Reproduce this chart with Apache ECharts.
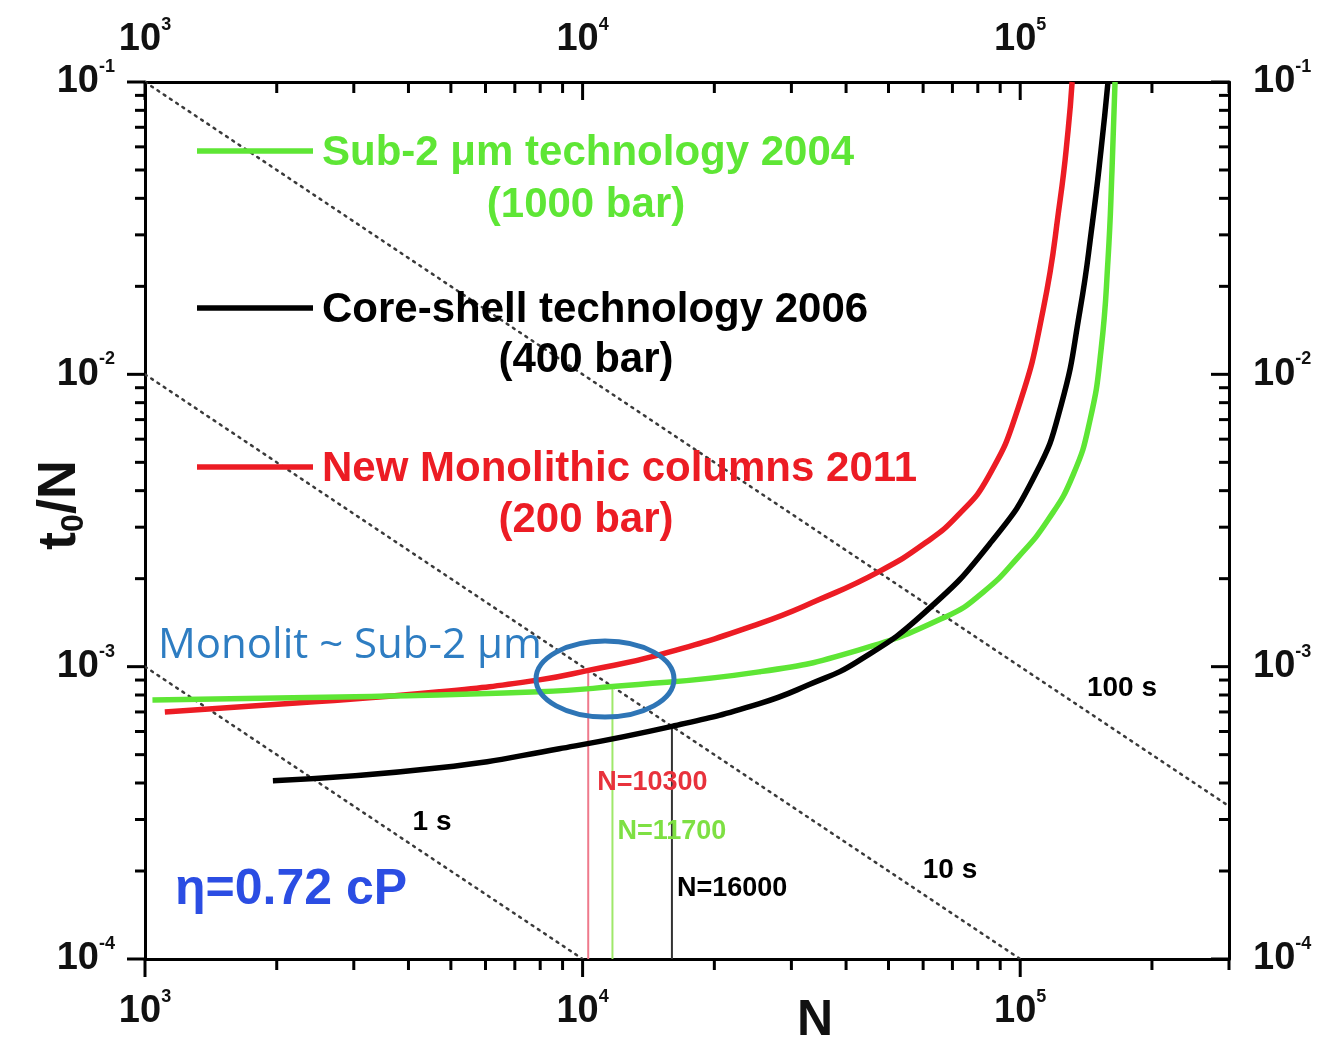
<!DOCTYPE html>
<html>
<head>
<meta charset="utf-8">
<script src="https://cdn.jsdelivr.net/npm/echarts@6/dist/echarts.min.js"></script>
<style>
  html, body { margin: 0; padding: 0; background: #ffffff; }
  #chart { width: 1325px; height: 1043px; }
</style>
</head>
<body>
<div id="chart"></div>
<script>
// Kinetic plot: t0/N against plate number N for three column technologies

// Sub-2 µm particles, 2004 (1000 bar)
const sub2N = [1040, 2790, 7960, 11700, 25300, 42700, 67500, 82350, 98950, 115800, 132100, 144400, 153000, 158700, 162100, 164700];
const sub2T = [7.69e-4, 7.88e-4, 8.2e-4, 8.55e-4, 9.6e-4, 1.14e-3, 1.48e-3, 1.80e-3, 2.37e-3, 3.18e-3, 4.53e-3, 6.98e-3, 1.21e-2, 2.46e-2, 5.0e-2, 1.0e-1];

// Core-shell particles, 2006 (400 bar)
const coreShellN = [1960, 4706, 8842, 16000, 25260, 32850, 42720, 60720, 85870, 108200, 124050, 137000, 146000, 153000, 158700];
const coreShellT = [4.07e-4, 4.51e-4, 5.24e-4, 6.25e-4, 7.46e-4, 8.67e-4, 1.047e-3, 1.54e-3, 2.672e-3, 4.53e-3, 7.86e-3, 1.66e-2, 3.24e-2, 5.85e-2, 1.0e-1];

// New monolithic columns, 2011 (200 bar)
const monolithN = [1110, 2257, 4706, 7959, 10300, 14943, 25262, 34621, 47446, 60725, 72210, 84530, 98955, 112800, 123380, 128680, 131400];
const monolithT = [7.0e-4, 7.52e-4, 8.2e-4, 9.01e-4, 9.71e-4, 1.098e-3, 1.401e-3, 1.693e-3, 2.11e-3, 2.652e-3, 3.305e-3, 4.457e-3, 7.68e-3, 1.66e-2, 3.95e-2, 6.85e-2, 1.0e-1];

// Constant analysis-time lines (end points)
const iso1sN = [1000, 10000];
const iso1sT = [1e-3, 1e-4];
const iso10sN = [1000, 100000];
const iso10sT = [1e-2, 1e-4];
const iso100sN = [1000, 300000];
const iso100sT = [1e-1, 3.333e-4];
const isoNames = ['1 s', '10 s', '100 s'];

// Plate numbers reached within 10 s
const markN = [10300, 11700, 16000];
const markT = [9.71e-4, 8.55e-4, 6.25e-4];

// Axis ticks
const xMajorTicks = [1e3, 1e4, 1e5];
const xMinorTicks = [2e3, 3e3, 4e3, 5e3, 6e3, 7e3, 8e3, 9e3, 2e4, 3e4, 4e4, 5e4, 6e4, 7e4, 8e4, 9e4, 2e5, 3e5];
const yMajorTicks = [1e-4, 1e-3, 1e-2, 1e-1];
const yMinorTicks = [2e-4, 3e-4, 4e-4, 5e-4, 6e-4, 7e-4, 8e-4, 9e-4,
                     2e-3, 3e-3, 4e-3, 5e-3, 6e-3, 7e-3, 8e-3, 9e-3,
                     2e-2, 3e-2, 4e-2, 5e-2, 6e-2, 7e-2, 8e-2, 9e-2];

const legendLines = ['Sub-2 \u03bcm technology 2004', 'Core-shell technology 2006', 'New Monolithic columns 2011'];
const legendPressures = ['(1000 bar)', '(400 bar)', '(200 bar)'];

const FONT = "'Liberation Sans', Arial, Helvetica, sans-serif";
const GREEN = '#5ee635';
const RED = '#ec1c24';
const BLACK = '#000000';

function zip(a, b) { return a.map((v, i) => [v, b[i]]); }

function powLabel(v) {
  const l = Math.log10(v);
  const e = Math.round(l);
  if (Math.abs(l - e) > 1e-6) return '';
  return '{b|10}{s|' + (e < 0 ? '-' + (-e) : e) + '}';
}

const labelRich = {
  b: { fontFamily: FONT, fontSize: 38, fontWeight: 'bold', color: '#111', lineHeight: 48 },
  s: { fontFamily: FONT, fontSize: 18, fontWeight: 'bold', color: '#111', lineHeight: 16, verticalAlign: 'top' }
};

function xAxisCfg(pos, margin) {
  return {
    type: 'log', logBase: 10, min: 1000, max: 300000, position: pos,
    axisLine: { show: true, onZero: false, lineStyle: { color: '#000', width: 3 } },
    axisTick: { show: false }, minorTick: { show: false },
    splitLine: { show: false },
    axisLabel: { margin: margin, formatter: powLabel, rich: labelRich, showMaxLabel: false }
  };
}
function yAxisCfg(pos, margin) {
  return {
    type: 'log', logBase: 10, min: 1e-4, max: 1e-1, position: pos,
    axisLine: { show: true, onZero: false, lineStyle: { color: '#000', width: 3 } },
    axisTick: { show: false }, minorTick: { show: false },
    splitLine: { show: false },
    axisLabel: { margin: margin, formatter: powLabel, rich: labelRich }
  };
}

// ticks: outward on bottom/left, inward on top/right
function xTickItem(params, api) {
  const v = api.value(0);
  const major = api.value(2) === 1;
  const cs = params.coordSys;
  const x = api.coord([v, 1e-3])[0];
  const bottom = cs.y + cs.height, top = cs.y;
  const len = major ? 18 : 11;
  const st = { stroke: '#000', lineWidth: 3 };
  return { type: 'group', children: [
    { type: 'line', shape: { x1: x, y1: bottom, x2: x, y2: bottom + len }, style: st },
    { type: 'line', shape: { x1: x, y1: top, x2: x, y2: top + len }, style: st }
  ] };
}
function yTickItem(params, api) {
  const v = api.value(1);
  const major = api.value(2) === 1;
  const cs = params.coordSys;
  const y = api.coord([1e4, v])[1];
  const left = cs.x, right = cs.x + cs.width;
  const len = major ? 18 : 10;
  const st = { stroke: '#000', lineWidth: 3 };
  return { type: 'group', children: [
    { type: 'line', shape: { x1: left - len, y1: y, x2: left, y2: y }, style: st },
    { type: 'line', shape: { x1: right - len, y1: y, x2: right, y2: y }, style: st }
  ] };
}

const xTickData = xMajorTicks.map(v => [v, 1e-3, 1]).concat(xMinorTicks.map(v => [v, 1e-3, 0]));
const yTickData = yMajorTicks.map(v => [1e4, v, 1]).concat(yMinorTicks.map(v => [1e4, v, 0]));

const isoStyle = { color: '#3a3a3a', width: 2.5, type: [2, 5.5], cap: 'round' };

function lineSeries(name, data, style, z) {
  return {
    name: name, type: 'line', data: data, xAxisIndex: 0, yAxisIndex: 0,
    symbol: 'none', showSymbol: false, smooth: false, lineStyle: style, z: z,
    silent: true, animation: false
  };
}

const markColors = ['#ef7a8c', '#9fe86a', '#333333'];

const series = [
  lineSeries(isoNames[0], zip(iso1sN, iso1sT), isoStyle, 1),
  lineSeries(isoNames[1], zip(iso10sN, iso10sT), isoStyle, 1),
  lineSeries(isoNames[2], zip(iso100sN, iso100sT), isoStyle, 1)
];
markN.forEach((n, i) => {
  series.push(lineSeries('N=' + n, [[n, 1e-4], [n, markT[i]]], { color: markColors[i], width: 2 }, 2));
});
[
  ['monolith', monolithN, monolithT, RED],
  ['sub2', sub2N, sub2T, GREEN],
  ['coreShell', coreShellN, coreShellT, BLACK]
].forEach(([name, n, t, c]) => {
  const s = lineSeries(name, zip(n, t), { color: c, width: 5.5, join: 'round' }, 3);
  s.smooth = 0.5;
  series.push(s);
});
series.push({
  type: 'custom', xAxisIndex: 0, yAxisIndex: 0, renderItem: xTickItem,
  data: xTickData, encode: { x: 0, y: 1 }, clip: false, silent: true, z: 5, animation: false
});
series.push({
  type: 'custom', xAxisIndex: 0, yAxisIndex: 0, renderItem: yTickItem,
  data: yTickData, encode: { x: 0, y: 1 }, clip: false, silent: true, z: 5, animation: false
});

const chart = echarts.init(document.getElementById('chart'), null, { renderer: 'canvas' });

chart.setOption({
  backgroundColor: '#ffffff',
  animation: false,
  grid: { left: 145, right: 96, top: 82, bottom: 84, containLabel: false, outerBoundsMode: 'none' },
  xAxis: [xAxisCfg('bottom', 29), xAxisCfg('top', 18)],
  yAxis: [yAxisCfg('left', 30), yAxisCfg('right', 24)],
  series: series
});

// Annotations placed in pixel space, with mark labels anchored to their data
function px(n, t) { return chart.convertToPixel({ xAxisIndex: 0, yAxisIndex: 0 }, [n, t]); }

const legendColors = [GREEN, BLACK, RED];
const legendRowY = [151, 308, 467];
const legendPressY = [205, 360, 520];
const graphics = [];
legendLines.forEach((txt, i) => {
  graphics.push({ type: 'line', shape: { x1: 197, y1: legendRowY[i], x2: 313, y2: legendRowY[i] },
    style: { stroke: legendColors[i], lineWidth: 5.5 }, z: 20 });
  graphics.push({ type: 'text', x: 322, y: legendRowY[i] + 2, z: 20,
    style: { text: txt, fill: legendColors[i], font: 'bold 42px ' + FONT, textAlign: 'left', textVerticalAlign: 'middle' } });
  graphics.push({ type: 'text', x: 586, y: legendPressY[i], z: 20,
    style: { text: legendPressures[i], fill: legendColors[i], font: 'bold 42px ' + FONT, textAlign: 'center', textVerticalAlign: 'middle' } });
});

// iso-time labels
const isoLabelPos = [[432, 822], [950, 870], [1122, 688]];
isoNames.forEach((txt, i) => {
  graphics.push({ type: 'text', x: isoLabelPos[i][0], y: isoLabelPos[i][1], z: 20,
    style: { text: txt, fill: '#000', font: 'bold 28px ' + FONT, textAlign: 'center', textVerticalAlign: 'middle' } });
});

// plate-number labels beside the vertical markers
const markLabelDx = [9, 5, 5];
const markLabelY = [783, 832, 889];
const markTextColors = ['#e8323c', '#7ee043', '#000000'];
markN.forEach((n, i) => {
  const p = px(n, 1e-4);
  graphics.push({ type: 'text', x: p[0] + markLabelDx[i], y: markLabelY[i], z: 20,
    style: { text: 'N=' + n, fill: markTextColors[i], font: 'bold 27px ' + FONT, textAlign: 'left', textVerticalAlign: 'middle' } });
});

// viscosity note
graphics.push({ type: 'text', x: 175, y: 890, z: 20,
  style: { text: '\u03b7=0.72 cP', fill: '#2b4de3', font: 'bold 50px ' + FONT, textAlign: 'left', textVerticalAlign: 'middle' } });

// highlighted comparison
graphics.push({ type: 'text', x: 158, y: 646, z: 20,
  style: { text: 'Monolit ~ Sub-2 \u03bcm', fill: '#2e7dc2', font: '42px "Open Sans", Lato, sans-serif', textAlign: 'left', textVerticalAlign: 'middle' } });
graphics.push({ type: 'ellipse', shape: { cx: 605, cy: 679, rx: 69, ry: 38 }, z: 21,
  style: { fill: 'none', stroke: '#2e75b6', lineWidth: 5 } });

// axis titles
graphics.push({ type: 'text', x: 60, y: 505, rotation: Math.PI / 2, z: 20,
  style: { text: '{m|t}{d|0}{m|/N}', textAlign: 'center', textVerticalAlign: 'middle',
    rich: {
      m: { fontFamily: FONT, fontSize: 54, fontWeight: 'bold', fill: '#111', lineHeight: 60 },
      d: { fontFamily: FONT, fontSize: 32, fontWeight: 'bold', fill: '#111', lineHeight: 60, verticalAlign: 'bottom' }
    } } });
graphics.push({ type: 'text', x: 815, y: 1021, z: 20,
  style: { text: 'N', fill: '#111', font: 'bold 50px ' + FONT, textAlign: 'center', textVerticalAlign: 'middle' } });

chart.setOption({ graphic: { elements: graphics } });
</script>
</body>
</html>
